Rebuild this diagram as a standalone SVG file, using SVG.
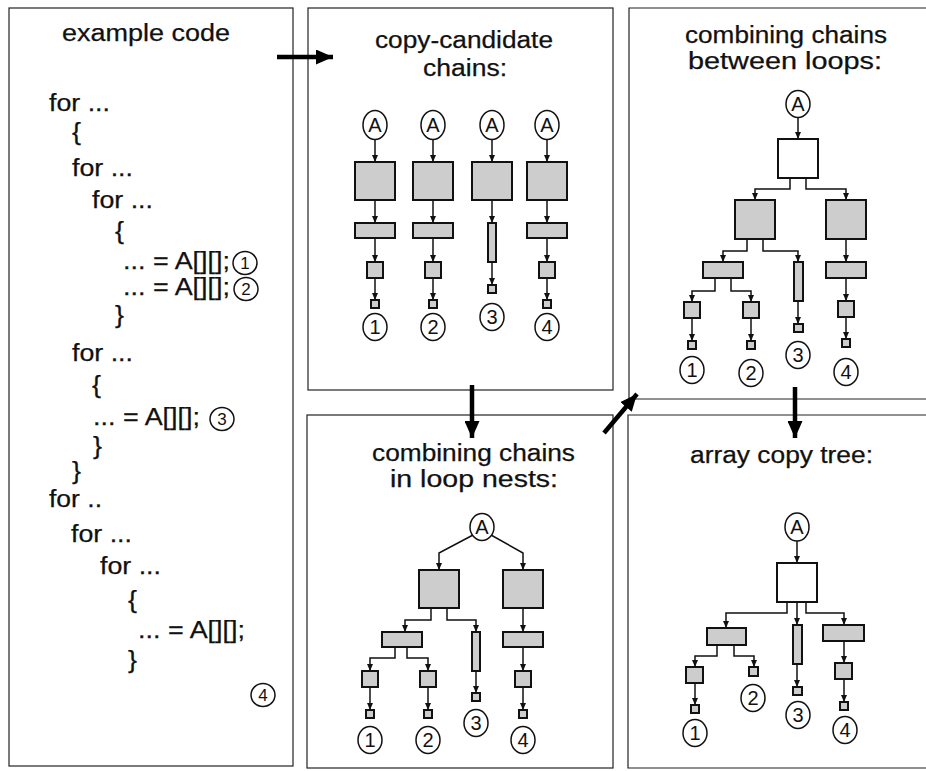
<svg xmlns="http://www.w3.org/2000/svg" width="926" height="771" viewBox="0 0 926 771">
<style>
.t{font-family:"Liberation Sans",Arial,sans-serif;font-size:23px;fill:#111;stroke:#111;stroke-width:0.25}
.n{font-family:"Liberation Sans",Arial,sans-serif;font-size:20px;fill:#111;text-anchor:middle}
.cn{font-family:"Liberation Sans",Arial,sans-serif;font-size:17px;fill:#111;text-anchor:middle}
.box{fill:#cdcdcd;stroke:#111;stroke-width:2}
.wbox{fill:#fff;stroke:#111;stroke-width:2}
.ov{fill:#fff;stroke:#111;stroke-width:1.5}
.frame{fill:none;stroke:#222;stroke-width:1.2}
.ln{fill:none;stroke:#111;stroke-width:1.5;marker-end:url(#ah)}
.big{fill:none;stroke:#000;stroke-width:4.5;marker-end:url(#bh)}
</style>
<defs>
<marker id="ah" viewBox="0 0 7 6" refX="7" refY="3" markerWidth="7" markerHeight="6" markerUnits="userSpaceOnUse" orient="auto"><path d="M0,0 L7,3 L0,6 z" fill="#111"/></marker>
<marker id="bh" viewBox="0 0 17 15" refX="17" refY="7.5" markerWidth="17" markerHeight="15" markerUnits="userSpaceOnUse" orient="auto"><path d="M0,0 L17,7.5 L0,15 z" fill="#000"/></marker>
</defs>
<rect width="926" height="771" fill="#fff"/>

<!-- panel frames -->
<g id="panel-code"><rect class="frame" x="9" y="8" width="284" height="758"/></g>
<g id="panel-chains"><rect class="frame" x="308" y="8" width="305" height="382"/></g>
<g id="panel-nests"><rect class="frame" x="307" y="415" width="306" height="353"/></g>
<g id="panel-between"><path class="frame" d="M926,8 L629,8 L629,399 L926,399"/></g>
<g id="panel-tree"><path class="frame" d="M926,415 L628,415 L628,768 L926,768"/></g>

<!-- titles -->
<g id="titles">
<text class="t" x="62" y="41" textLength="168" lengthAdjust="spacingAndGlyphs">example code</text>
<text class="t" x="375" y="48" textLength="178" lengthAdjust="spacingAndGlyphs">copy-candidate</text>
<text class="t" x="423" y="76" textLength="84" lengthAdjust="spacingAndGlyphs">chains:</text>
<text class="t" x="685" y="43" textLength="202" lengthAdjust="spacingAndGlyphs">combining chains</text>
<text class="t" x="688" y="69" textLength="194" lengthAdjust="spacingAndGlyphs">between loops:</text>
<text class="t" x="372" y="461" textLength="203" lengthAdjust="spacingAndGlyphs">combining chains</text>
<text class="t" x="390" y="487" textLength="168" lengthAdjust="spacingAndGlyphs">in loop nests:</text>
<text class="t" x="690" y="463" textLength="183" lengthAdjust="spacingAndGlyphs">array copy tree:</text>
</g>

<!-- code -->
<g id="code">
<text class="t" x="49" y="111" textLength="61" lengthAdjust="spacingAndGlyphs">for ...</text>
<text class="t" x="72" y="140" textLength="9" lengthAdjust="spacingAndGlyphs">{</text>
<text class="t" x="72" y="176" textLength="61" lengthAdjust="spacingAndGlyphs">for ...</text>
<text class="t" x="92" y="208" textLength="61" lengthAdjust="spacingAndGlyphs">for ...</text>
<text class="t" x="115" y="239" textLength="9" lengthAdjust="spacingAndGlyphs">{</text>
<text class="t" x="123" y="269" textLength="107" lengthAdjust="spacingAndGlyphs">... = A[][];</text>
<text class="t" x="123" y="295" textLength="107" lengthAdjust="spacingAndGlyphs">... = A[][];</text>
<text class="t" x="115" y="323" textLength="9" lengthAdjust="spacingAndGlyphs">}</text>
<text class="t" x="72" y="361" textLength="61" lengthAdjust="spacingAndGlyphs">for ...</text>
<text class="t" x="92" y="393" textLength="9" lengthAdjust="spacingAndGlyphs">{</text>
<text class="t" x="93" y="425" textLength="107" lengthAdjust="spacingAndGlyphs">... = A[][];</text>
<text class="t" x="93" y="454" textLength="9" lengthAdjust="spacingAndGlyphs">}</text>
<text class="t" x="72" y="479" textLength="9" lengthAdjust="spacingAndGlyphs">}</text>
<text class="t" x="49" y="507" textLength="53" lengthAdjust="spacingAndGlyphs">for ..</text>
<text class="t" x="71" y="542" textLength="61" lengthAdjust="spacingAndGlyphs">for ...</text>
<text class="t" x="100" y="574" textLength="61" lengthAdjust="spacingAndGlyphs">for ...</text>
<text class="t" x="128" y="608" textLength="9" lengthAdjust="spacingAndGlyphs">{</text>
<text class="t" x="138" y="638" textLength="107" lengthAdjust="spacingAndGlyphs">... = A[][];</text>
<text class="t" x="128" y="668" textLength="9" lengthAdjust="spacingAndGlyphs">}</text>
</g>
<g id="code-ref1"><ellipse class="ov" cx="245" cy="263" rx="12" ry="11.5"/><text class="cn" x="245" y="269">1</text></g>
<g id="code-ref2"><ellipse class="ov" cx="246" cy="289" rx="12" ry="11.5"/><text class="cn" x="246" y="295">2</text></g>
<g id="code-ref3"><ellipse class="ov" cx="222" cy="419" rx="12" ry="11.5"/><text class="cn" x="222" y="425">3</text></g>
<g id="code-ref4"><ellipse class="ov" cx="263" cy="695" rx="12" ry="11.5"/><text class="cn" x="263" y="701">4</text></g>

<!-- connectors -->
<g id="connectors">
<path class="big" d="M277,57 L333,57"/>
<path class="big" d="M472,385 L472,438"/>
<path class="big" d="M604,433 L637,394"/>
<path class="big" d="M795,387 L795,438"/>
<!-- panel 2 -->
<path class="ln" d="M375,139 V162"/><path class="ln" d="M375,200 V223"/><path class="ln" d="M375,238 V262"/><path class="ln" d="M375,278 V300"/>
<path class="ln" d="M433,139 V162"/><path class="ln" d="M433,200 V223"/><path class="ln" d="M433,238 V262"/><path class="ln" d="M433,278 V300"/>
<path class="ln" d="M492,139 V162"/><path class="ln" d="M492,200 V223"/><path class="ln" d="M492,262 V285"/>
<path class="ln" d="M547,139 V162"/><path class="ln" d="M547,200 V223"/><path class="ln" d="M547,238 V262"/><path class="ln" d="M547,278 V300"/>
<!-- panel 3 -->
<path class="ln" d="M473,535 L439,553 V570"/>
<path class="ln" d="M491,535 L523,553 V570"/>
<path class="ln" d="M431,608 V620 H405 V632"/>
<path class="ln" d="M447,608 V620 H476 V632"/>
<path class="ln" d="M523,608 V632"/>
<path class="ln" d="M395,647 V658 H370 V671"/>
<path class="ln" d="M407,647 V658 H428 V671"/>
<path class="ln" d="M476,671 V693"/>
<path class="ln" d="M523,647 V671"/>
<path class="ln" d="M370,687 V710"/>
<path class="ln" d="M428,687 V710"/>
<path class="ln" d="M523,687 V710"/>
<!-- panel 4 -->
<path class="ln" d="M798,118 V139"/>
<path class="ln" d="M790,178 V189 H755 V200"/>
<path class="ln" d="M806,178 V189 H846 V200"/>
<path class="ln" d="M747,239 V251 H723 V262"/>
<path class="ln" d="M763,239 V251 H798 V262"/>
<path class="ln" d="M846,239 V262"/>
<path class="ln" d="M715,278 V291 H692 V302"/>
<path class="ln" d="M731,278 V291 H751 V302"/>
<path class="ln" d="M798,301 V324"/>
<path class="ln" d="M846,278 V301"/>
<path class="ln" d="M692,318 V341"/>
<path class="ln" d="M751,318 V341"/>
<path class="ln" d="M846,317 V339"/>
<!-- panel 5 -->
<path class="ln" d="M797,541 V563"/>
<path class="ln" d="M787,602 V613 H726 V628"/>
<path class="ln" d="M797,602 V625"/>
<path class="ln" d="M806,602 V613 H844 V625"/>
<path class="ln" d="M717,645 V656 H695 V667"/>
<path class="ln" d="M734,645 V656 H754 V667"/>
<path class="ln" d="M695,683 V705"/>
<path class="ln" d="M797,664 V687"/>
<path class="ln" d="M844,641 V663"/>
<path class="ln" d="M844,679 V702"/>
</g>

<!-- panel 2 nodes -->
<g id="c1-A"><ellipse class="ov" cx="375" cy="125" rx="12" ry="14.5"/><text class="n" x="375" y="132">A</text></g>
<g id="c1-b1"><rect class="box" x="355" y="162" width="40" height="38"/></g>
<g id="c1-b2"><rect class="box" x="355" y="223" width="40" height="15"/></g>
<g id="c1-b3"><rect class="box" x="367" y="262" width="16" height="16"/></g>
<g id="c1-b4"><rect class="box" x="371" y="300" width="8" height="8"/></g>
<g id="c1-n"><ellipse class="ov" cx="375" cy="327" rx="12" ry="13.5"/><text class="n" x="375" y="334">1</text></g>

<g id="c2-A"><ellipse class="ov" cx="433" cy="125" rx="12" ry="14.5"/><text class="n" x="433" y="132">A</text></g>
<g id="c2-b1"><rect class="box" x="413" y="162" width="40" height="38"/></g>
<g id="c2-b2"><rect class="box" x="413" y="223" width="40" height="15"/></g>
<g id="c2-b3"><rect class="box" x="425" y="262" width="16" height="16"/></g>
<g id="c2-b4"><rect class="box" x="429" y="300" width="8" height="8"/></g>
<g id="c2-n"><ellipse class="ov" cx="433" cy="327" rx="12" ry="13.5"/><text class="n" x="433" y="334">2</text></g>

<g id="c3-A"><ellipse class="ov" cx="492" cy="125" rx="12" ry="14.5"/><text class="n" x="492" y="132">A</text></g>
<g id="c3-b1"><rect class="box" x="472" y="162" width="40" height="38"/></g>
<g id="c3-b2"><rect class="box" x="488" y="223" width="8" height="39"/></g>
<g id="c3-b4"><rect class="box" x="488" y="285" width="8" height="8"/></g>
<g id="c3-n"><ellipse class="ov" cx="492" cy="317" rx="12" ry="13.5"/><text class="n" x="492" y="324">3</text></g>

<g id="c4-A"><ellipse class="ov" cx="547" cy="125" rx="12" ry="14.5"/><text class="n" x="547" y="132">A</text></g>
<g id="c4-b1"><rect class="box" x="527" y="162" width="40" height="38"/></g>
<g id="c4-b2"><rect class="box" x="527" y="223" width="40" height="15"/></g>
<g id="c4-b3"><rect class="box" x="539" y="262" width="16" height="16"/></g>
<g id="c4-b4"><rect class="box" x="543" y="300" width="8" height="8"/></g>
<g id="c4-n"><ellipse class="ov" cx="547" cy="327" rx="12" ry="13.5"/><text class="n" x="547" y="334">4</text></g>

<!-- panel 3 nodes -->
<g id="p3-A"><ellipse class="ov" cx="482" cy="527" rx="12" ry="13.5"/><text class="n" x="482" y="534">A</text></g>
<g id="p3-L"><rect class="box" x="419" y="570" width="40" height="38"/></g>
<g id="p3-R"><rect class="box" x="503" y="570" width="40" height="38"/></g>
<g id="p3-m"><rect class="box" x="382" y="632" width="40" height="15"/></g>
<g id="p3-thin"><rect class="box" x="472" y="632" width="8" height="39"/></g>
<g id="p3-r"><rect class="box" x="503" y="632" width="40" height="15"/></g>
<g id="p3-s1"><rect class="box" x="362" y="671" width="16" height="16"/></g>
<g id="p3-s2"><rect class="box" x="420" y="671" width="16" height="16"/></g>
<g id="p3-s4"><rect class="box" x="515" y="671" width="16" height="16"/></g>
<g id="p3-t1"><rect class="box" x="366" y="710" width="8" height="8"/></g>
<g id="p3-t2"><rect class="box" x="424" y="710" width="8" height="8"/></g>
<g id="p3-t3"><rect class="box" x="472" y="693" width="8" height="8"/></g>
<g id="p3-t4"><rect class="box" x="519" y="710" width="8" height="8"/></g>
<g id="p3-n1"><ellipse class="ov" cx="370" cy="740" rx="12" ry="13.5"/><text class="n" x="370" y="747">1</text></g>
<g id="p3-n2"><ellipse class="ov" cx="428" cy="740" rx="12" ry="13.5"/><text class="n" x="428" y="747">2</text></g>
<g id="p3-n3"><ellipse class="ov" cx="476" cy="723" rx="12" ry="13.5"/><text class="n" x="476" y="730">3</text></g>
<g id="p3-n4"><ellipse class="ov" cx="523" cy="740" rx="12" ry="13.5"/><text class="n" x="523" y="747">4</text></g>

<!-- panel 4 nodes -->
<g id="p4-A"><ellipse class="ov" cx="798" cy="104" rx="12" ry="13.5"/><text class="n" x="798" y="111">A</text></g>
<g id="p4-W"><rect class="wbox" x="778" y="139" width="40" height="39"/></g>
<g id="p4-L"><rect class="box" x="735" y="200" width="40" height="39"/></g>
<g id="p4-R"><rect class="box" x="826" y="200" width="40" height="39"/></g>
<g id="p4-m"><rect class="box" x="703" y="262" width="40" height="16"/></g>
<g id="p4-thin"><rect class="box" x="794" y="262" width="9" height="39"/></g>
<g id="p4-r"><rect class="box" x="826" y="262" width="40" height="16"/></g>
<g id="p4-s1"><rect class="box" x="684" y="302" width="16" height="16"/></g>
<g id="p4-s2"><rect class="box" x="743" y="302" width="16" height="16"/></g>
<g id="p4-s4"><rect class="box" x="838" y="301" width="16" height="16"/></g>
<g id="p4-t1"><rect class="box" x="688" y="341" width="8" height="8"/></g>
<g id="p4-t2"><rect class="box" x="747" y="341" width="8" height="8"/></g>
<g id="p4-t3"><rect class="box" x="794" y="324" width="9" height="8"/></g>
<g id="p4-t4"><rect class="box" x="842" y="339" width="8" height="8"/></g>
<g id="p4-n1"><ellipse class="ov" cx="692" cy="370" rx="12" ry="13.5"/><text class="n" x="692" y="377">1</text></g>
<g id="p4-n2"><ellipse class="ov" cx="751" cy="373" rx="12" ry="13.5"/><text class="n" x="751" y="380">2</text></g>
<g id="p4-n3"><ellipse class="ov" cx="798" cy="355" rx="12" ry="13.5"/><text class="n" x="798" y="362">3</text></g>
<g id="p4-n4"><ellipse class="ov" cx="846" cy="372" rx="12" ry="13.5"/><text class="n" x="846" y="379">4</text></g>

<!-- panel 5 nodes -->
<g id="p5-A"><ellipse class="ov" cx="797" cy="527" rx="12" ry="14"/><text class="n" x="797" y="534">A</text></g>
<g id="p5-W"><rect class="wbox" x="777" y="563" width="40" height="39"/></g>
<g id="p5-m"><rect class="box" x="707" y="628" width="39" height="17"/></g>
<g id="p5-thin"><rect class="box" x="793" y="625" width="9" height="39"/></g>
<g id="p5-r"><rect class="box" x="823" y="625" width="41" height="16"/></g>
<g id="p5-s1"><rect class="box" x="686" y="667" width="17" height="16"/></g>
<g id="p5-t2"><rect class="box" x="749" y="667" width="9" height="9"/></g>
<g id="p5-t1"><rect class="box" x="691" y="705" width="8" height="8"/></g>
<g id="p5-t3"><rect class="box" x="793" y="687" width="9" height="8"/></g>
<g id="p5-s4"><rect class="box" x="835" y="663" width="17" height="16"/></g>
<g id="p5-t4"><rect class="box" x="840" y="702" width="8" height="8"/></g>
<g id="p5-n1"><ellipse class="ov" cx="695" cy="733" rx="12" ry="13.5"/><text class="n" x="695" y="740">1</text></g>
<g id="p5-n2"><ellipse class="ov" cx="753" cy="698" rx="12" ry="13.5"/><text class="n" x="753" y="705">2</text></g>
<g id="p5-n3"><ellipse class="ov" cx="798" cy="715" rx="12" ry="13.5"/><text class="n" x="798" y="722">3</text></g>
<g id="p5-n4"><ellipse class="ov" cx="845" cy="730" rx="12" ry="13.5"/><text class="n" x="845" y="737">4</text></g>
</svg>
